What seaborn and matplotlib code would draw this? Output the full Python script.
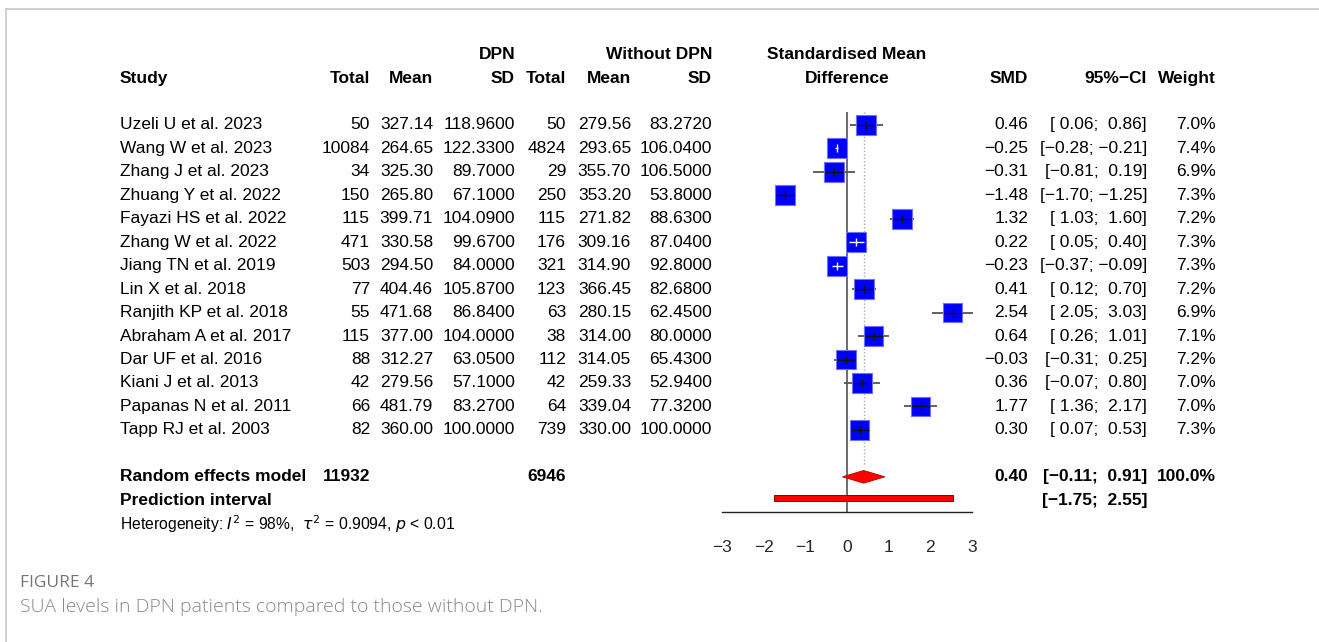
import numpy as np
import matplotlib
matplotlib.use('Agg')
import matplotlib.pyplot as plt
import matplotlib.transforms as mtransforms
from matplotlib.lines import Line2D
import seaborn as sns

sns.set_style('white')
plt.rcParams['font.family'] = ['Liberation Sans', 'DejaVu Sans']
plt.rcParams['axes.unicode_minus'] = True

# data
studies = ['Uzeli U et al. 2023', 'Wang W et al. 2023', 'Zhang J et al. 2023',
           'Zhuang Y et al. 2022', 'Fayazi HS et al. 2022', 'Zhang W et al. 2022',
           'Jiang TN et al. 2019', 'Lin X et al. 2018', 'Ranjith KP et al. 2018',
           'Abraham A et al. 2017', 'Dar UF et al. 2016', 'Kiani J et al. 2013',
           'Papanas N et al. 2011', 'Tapp RJ et al. 2003']
dpn_total = [50, 10084, 34, 150, 115, 471, 503, 77, 55, 115, 88, 42, 66, 82]
dpn_mean = [327.14, 264.65, 325.30, 265.80, 399.71, 330.58, 294.50, 404.46,
            471.68, 377.00, 312.27, 279.56, 481.79, 360.00]
dpn_sd = [118.96, 122.33, 89.70, 67.10, 104.09, 99.67, 84.00, 105.87,
          86.84, 104.00, 63.05, 57.10, 83.27, 100.00]
ctl_total = [50, 4824, 29, 250, 115, 176, 321, 123, 63, 38, 112, 42, 64, 739]
ctl_mean = [279.56, 293.65, 355.70, 353.20, 271.82, 309.16, 314.90, 366.45,
            280.15, 314.00, 314.05, 259.33, 339.04, 330.00]
ctl_sd = [83.272, 106.04, 106.50, 53.80, 88.63, 87.04, 92.80, 82.68,
          62.45, 80.00, 65.43, 52.94, 77.32, 100.00]
smd = [0.46, -0.25, -0.31, -1.48, 1.32, 0.22, -0.23, 0.41, 2.54, 0.64, -0.03, 0.36, 1.77, 0.30]
ci_low = [0.06, -0.28, -0.81, -1.70, 1.03, 0.05, -0.37, 0.12, 2.05, 0.26, -0.31, -0.07, 1.36, 0.07]
ci_high = [0.86, -0.21, 0.19, -1.25, 1.60, 0.40, -0.09, 0.70, 3.03, 1.01, 0.25, 0.80, 2.17, 0.53]
weight = [7.0, 7.4, 6.9, 7.3, 7.2, 7.3, 7.3, 7.2, 6.9, 7.1, 7.2, 7.0, 7.0, 7.3]

re_est, re_low, re_high = 0.40, -0.11, 0.91
pi_low, pi_high = -1.75, 2.55
total_dpn, total_ctl = 11932, 6946
x_ticks = [-3, -2, -1, 0, 1, 2, 3]

W, H = 1319, 642
fig = plt.figure(figsize=(W / 100, H / 100), dpi=100)
fig.patch.set_facecolor('white')

# forest panel: x -3..3 spans px 722..972, rows 125 + 23.45*i
ax = fig.add_axes([722 / W, 1 - 512 / H, 250 / W, 400 / H])
ax.set_xlim(-3, 3)
ax.set_ylim(16.5, -0.554)
ax.set_facecolor('none')
for s in ['left', 'top', 'right']:
    ax.spines[s].set_visible(False)
ax.spines['bottom'].set_color('#222222')
ax.spines['bottom'].set_linewidth(1.0)
ax.set_yticks([])
ax.set_xticks(x_ticks)
ax.set_xticklabels([f'{t}'.replace('-', '\u2212') for t in x_ticks])
ax.tick_params(axis='x', direction='out', length=9.5, width=1.0, color='#222222',
               pad=11, labelsize=12.5)

rows = np.arange(len(studies))
ax.axvline(0, color='#444444', lw=1.1, zorder=1)
ax.vlines(re_est, -0.55, 14.55, color='#aaaaaa', lw=1.0, linestyles=(0, (1, 1.5)), zorder=1)

half_box = 9 / (250 / 6)
for i in rows:
    ax.hlines(i, ci_low[i], ci_high[i], color='#555555', lw=1.3, zorder=2, clip_on=False)
sns.scatterplot(x=smd, y=rows, s=[w * 28 for w in weight], marker='s', color='#0000ff',
                edgecolor='#7070ff', linewidth=0.8, ax=ax, zorder=3, legend=False, clip_on=False)
for i in rows:
    inside = (ci_high[i] - ci_low[i]) / 2 < half_box
    c = 'white' if inside else '#111111'
    ax.hlines(i, max(ci_low[i], smd[i] - half_box), min(ci_high[i], smd[i] + half_box),
              color=c, lw=1.0, zorder=4)
    ax.vlines(smd[i], i - 0.17, i + 0.17, color=c, lw=1.0, zorder=4)

# random effects diamond and prediction interval
dh = 0.27
ax.fill([re_low, re_est, re_high, re_est], [15, 15 - dh, 15, 15 + dh],
        facecolor='#ff0000', edgecolor='#b00000', lw=0.6, zorder=3)
ax.barh(15.9, pi_high - pi_low, left=pi_low, height=0.22, color='#ff0000',
        edgecolor='#8b0000', lw=0.7, zorder=3)

# text columns placed by figure pixel x and data row y
tr = mtransforms.blended_transform_factory(fig.transFigure, ax.transData)
fs = 12.5


def put(px, row, s, ha='right', bold=False, size=fs):
    ax.text(px / W, row, s, transform=tr, ha=ha, va='center', fontsize=size,
            fontweight='bold' if bold else 'normal', color='black')


def fmt_ci(lo, hi):
    return f'[{lo:5.2f}; {hi:5.2f}]'.replace('-', '\u2212')


put(515, -3, 'DPN', bold=True)
put(712, -3, 'Without DPN', bold=True)
put(847, -3, 'Standardised Mean', ha='center', bold=True)
put(120, -2, 'Study', ha='left', bold=True)
for px, lab in [(370, 'Total'), (433, 'Mean'), (515, 'SD'), (566, 'Total'),
                (631, 'Mean'), (712, 'SD'), (1028, 'SMD'), (1147, '95%\u2212CI'),
                (1216, 'Weight')]:
    put(px, -2, lab, bold=True)
put(847, -2, 'Difference', ha='center', bold=True)

for i in rows:
    put(120, i, studies[i], ha='left')
    put(370, i, f'{dpn_total[i]}')
    put(433, i, f'{dpn_mean[i]:.2f}')
    put(515, i, f'{dpn_sd[i]:.4f}')
    put(566, i, f'{ctl_total[i]}')
    put(631, i, f'{ctl_mean[i]:.2f}')
    put(712, i, f'{ctl_sd[i]:.4f}')
    put(1028, i, f'{smd[i]:.2f}'.replace('-', '\u2212'))
    put(1147, i, fmt_ci(ci_low[i], ci_high[i]))
    put(1216, i, f'{weight[i]:.1f}%')

put(120, 15, 'Random effects model', ha='left', bold=True)
put(370, 15, f'{total_dpn}', bold=True)
put(566, 15, f'{total_ctl}', bold=True)
put(1028, 15, f'{re_est:.2f}', bold=True)
put(1147, 15, fmt_ci(re_low, re_high), bold=True)
put(1216, 15, '100.0%', bold=True)
put(120, 16, 'Prediction interval', ha='left', bold=True)
put(1147, 16, fmt_ci(pi_low, pi_high), bold=True)
put(120, 17, r'Heterogeneity: $I^2$ = 98%,  $\tau^2$ = 0.9094, $p$ < 0.01',
    ha='left', size=11.3)

# page frame and caption
fig.add_artist(Line2D([6 / W, 1], [1 - 9 / H, 1 - 9 / H], color='#c8c8c8', lw=1.2))
fig.add_artist(Line2D([6 / W, 6 / W], [0, 1 - 9 / H], color='#c8c8c8', lw=1.2))
fig.text(20 / W, 1 - 583 / H, 'FIGURE 4', ha='left', va='center', fontsize=12.5,
         color='#757575', family=['Open Sans', 'DejaVu Sans'])
fig.text(20 / W, 1 - 607 / H, 'SUA levels in DPN patients compared to those without DPN.',
         ha='left', va='center', fontsize=14, color='#888888',
         family=['Open Sans', 'DejaVu Sans'], fontweight='light')

fig.savefig('out.png', dpi=100, facecolor='white')
